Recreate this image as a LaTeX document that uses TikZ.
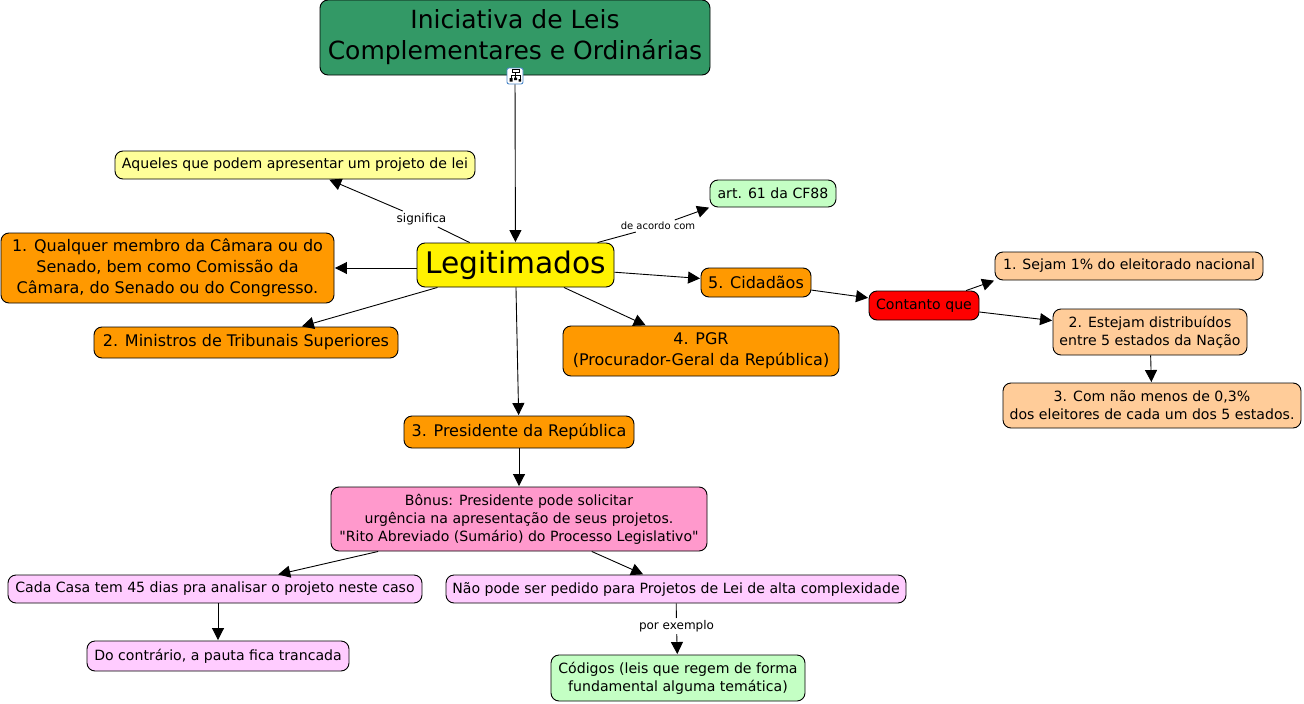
\documentclass[tikz,border=0pt]{standalone}
\usepackage{fontspec}
\setmainfont{DejaVu Sans}
\newfontfamily\straightfont{DejaVu Sans}
\usetikzlibrary{arrows.meta}
\definecolor{topgreen}{HTML}{339966}
\definecolor{paleyellow}{HTML}{FFFF99}
\definecolor{palegreen}{HTML}{C4FFC4}
\definecolor{boxorange}{HTML}{FF9900}
\definecolor{peach}{HTML}{FFCC99}
\definecolor{boxpink}{HTML}{FF99CC}
\definecolor{palepink}{HTML}{FFCCFF}
\definecolor{iconblue}{HTML}{4A86C8}
\tikzset{concept/.style={draw=black, rounded corners=8pt, align=center, inner sep=0pt, line width=0.9pt},
link/.style={-{Triangle[length=12pt,width=12pt]}, line width=0.9pt, shorten >=0.5pt},
plain/.style={line width=0.9pt},
linklabel/.style={font=\fontsize{12}{14}\selectfont, fill=white, inner sep=2pt},
small/.style={font=\fontsize{14.1}{18}\selectfont},
medium/.style={font=\fontsize{16}{21}\selectfont}}
\begin{document}
\begin{tikzpicture}[x=1pt,y=-1pt]
\useasboundingbox (0,0) rectangle (1304,704);

\node[concept, fill=topgreen, minimum width=390pt, minimum height=75pt, font=\fontsize{25}{31}\selectfont] (iniciativa) at (515,37.5) {Iniciativa de Leis\\Complementares e Ordinárias};
\node[concept, fill=yellow, minimum width=197pt, minimum height=44pt, font=\fontsize{29.7}{36}\selectfont] (legitimados) at (515.5,265) {Legitimados};
\node[concept, fill=paleyellow, small, minimum width=360pt, minimum height=28pt] (aqueles) at (295,165) {Aqueles que podem apresentar um projeto de lei};
\node[concept, fill=palegreen, small, minimum width=126pt, minimum height=27pt] (artigo) at (773,193.5) {art. 61 da CF88};
\node[concept, fill=boxorange, medium, minimum width=333pt, minimum height=70pt] (membro) at (167.5,268) {1. Qualquer membro da Câmara ou do\\Senado, bem como Comissão da\\Câmara, do Senado ou do Congresso.};
\node[concept, fill=boxorange, medium, minimum width=304pt, minimum height=31pt] (ministros) at (246,342.5) {2. Ministros de Tribunais Superiores};
\node[concept, fill=boxorange, medium, minimum width=110pt, minimum height=29pt] (cidadaos) at (756,282.5) {5. Cidadãos};
\node[concept, fill=boxorange, medium, minimum width=276pt, minimum height=50pt] (pgr) at (701,351) {4. PGR\\(Procurador-Geral da República)};
\node[concept, fill=boxorange, medium, minimum width=230pt, minimum height=32pt] (presidente) at (519,432) {3. Presidente da República};
\node[concept, fill=red, small, minimum width=110pt, minimum height=29pt] (contanto) at (924,305.5) {Contanto que};
\node[concept, fill=peach, small, minimum width=268pt, minimum height=28pt] (sejam) at (1129,266) {1. Sejam 1\% do eleitorado nacional};
\node[concept, fill=peach, small, minimum width=194pt, minimum height=46pt] (estejam) at (1150,332) {2. Estejam distribuídos\\entre 5 estados da Nação};
\node[concept, fill=peach, small, minimum width=298pt, minimum height=45pt] (menos) at (1152,405.5) {3. Com não menos de 0,3\%\\dos eleitores de cada um dos 5 estados.};
\node[concept, fill=boxpink, small, minimum width=376pt, minimum height=64pt] (bonus) at (519,519) {Bônus: Presidente pode solicitar\\urgência na apresentação de seus projetos.\\{\straightfont"}Rito Abreviado (Sumário) do Processo Legislativo{\straightfont"}};
\node[concept, fill=palepink, small, minimum width=414pt, minimum height=28pt] (casa) at (215,589) {Cada Casa tem 45 dias pra analisar o projeto neste caso};
\node[concept, fill=palepink, small, minimum width=460pt, minimum height=28pt] (altacomplex) at (676,589) {Não pode ser pedido para Projetos de Lei de alta complexidade};
\node[concept, fill=palepink, small, minimum width=262pt, minimum height=30pt] (pauta) at (218,656) {Do contrário, a pauta fica trancada};
\node[concept, fill=palegreen, small, minimum width=254pt, minimum height=46pt] (codigos) at (678,678) {Códigos (leis que regem de forma\\fundamental alguma temática)};

\node[linklabel] (significa) at (421.5,219) {significa};
\node[linklabel, font=\fontsize{10}{12}\selectfont] (acordo) at (658,226) {de acordo com};
\node[linklabel] (exemplo) at (676.5,626) {por exemplo};

\node[draw=iconblue, fill=white, rounded corners=2pt, minimum size=16pt, inner sep=0pt, line width=0.9pt] (mapicon) at (515,76) {};
\draw[line width=0.6pt] (512,69.5) rectangle (519,72.5) (515.5,72.5) -- (515.5,78) (511,75) -- (520,75) (511,75) -- (511,78) (520,75) -- (520,79);
\fill (509.5,78) rectangle (512.5,81.5) (514,77.5) rectangle (517,80) (518.5,79) rectangle (521,81.5);

\draw[link] (mapicon) -- (legitimados);
\draw[plain] (legitimados) -- (significa);
\draw[link] (significa) -- (aqueles);
\draw[plain] (legitimados) -- (acordo);
\draw[link] (acordo) -- (artigo.south west);
\draw[link] (legitimados.west |- membro.east) -- (membro);
\draw[link] (legitimados) -- (ministros);
\draw[link] (legitimados) -- (cidadaos);
\draw[link] (legitimados) -- (pgr);
\draw[link] (legitimados) -- (presidente);
\draw[link] (cidadaos) -- (contanto);
\draw[link] (contanto) -- (sejam.south west);
\draw[link] (contanto) -- (estejam);
\draw[link] (estejam) -- (menos);
\draw[link] (presidente) -- (bonus);
\draw[link] (bonus) -- (casa);
\draw[link] (bonus) -- (altacomplex);
\draw[link] (casa.south -| pauta.north) -- (pauta);
\draw[plain] (altacomplex) -- (exemplo);
\draw[link] (exemplo) -- (codigos);
\end{tikzpicture}
\end{document}
